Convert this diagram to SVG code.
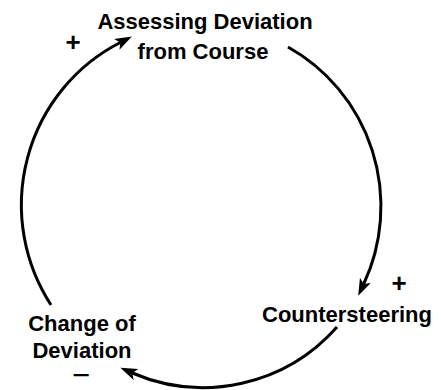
<svg xmlns="http://www.w3.org/2000/svg" width="441" height="390" viewBox="0 0 441 390">
<style>
text{font-family:"Liberation Sans",Arial,sans-serif;font-weight:bold;fill:#000;text-anchor:middle}
.lbl{font-size:22px}
.sign{font-size:26px}
.minus{font-size:20px}
.arc{fill:none;stroke:#000;stroke-width:3}
</style>
<defs>
<marker id="ah" markerUnits="userSpaceOnUse" markerWidth="20" markerHeight="14" viewBox="0 0 20 14" refX="4" refY="7" orient="auto">
<path d="M0,1 L17,7 L0,13 L4,7 Z" fill="#000"/>
</marker>
</defs>
<rect width="441" height="390" fill="#fff"/>
<g id="connectors">
<path class="arc" d="M51,305 A180,182 0 0 1 120.3,42.5" marker-end="url(#ah)"/>
<path class="arc" d="M288,47 A180,182 0 0 1 363.7,284" marker-end="url(#ah)"/>
<path class="arc" d="M337,327 A180,182 0 0 1 132.3,373" marker-end="url(#ah)"/>
</g>
<g id="node-assessing">
<text class="lbl" x="205" y="29">Assessing Deviation</text>
<text class="lbl" x="203" y="59">from Course</text>
</g>
<g id="node-countersteering">
<text class="lbl" x="347" y="322">Countersteering</text>
</g>
<g id="node-change">
<text class="lbl" x="82" y="331">Change of</text>
<text class="lbl" x="82" y="358">Deviation</text>
</g>
<g id="signs">
<text class="sign" x="73" y="51">+</text>
<text class="sign" x="399" y="292">+</text>
<text class="minus" transform="translate(81,382) scale(1.5,1)">−</text>
</g>
</svg>
